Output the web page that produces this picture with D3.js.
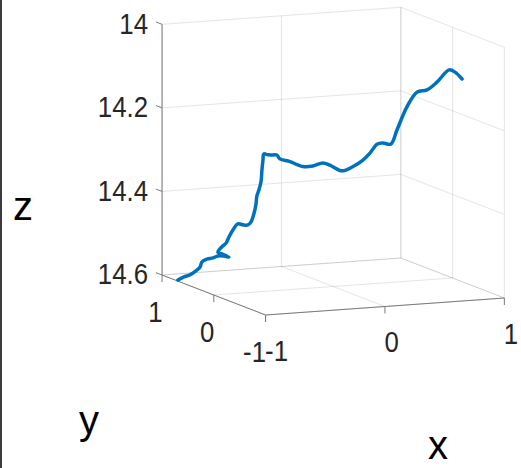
<!DOCTYPE html>
<html>
<head>
<meta charset="utf-8">
<script src="https://cdn.jsdelivr.net/npm/d3@7"></script>
<style>
  html, body { margin: 0; padding: 0; background: #fff; overflow: hidden; }
  svg { display: block; font-family: "Liberation Sans", Arial, Helvetica, sans-serif; }
</style>
</head>
<body>
<svg id="chart" width="521" height="468"></svg>
<script>
// curve data (x, y, z)
const xVals = [-0.980, -0.940, -0.901, -0.861, -0.834, -0.821, -0.788, -0.748, -0.715, -0.675,
  -0.642, -0.689, -0.715, -0.689, -0.662, -0.642, -0.616, -0.583, -0.550, -0.517,
  -0.497, -0.477, -0.464, -0.457, -0.444, -0.430, -0.424, -0.417, -0.411, -0.384,
  -0.351, -0.325, -0.305, -0.238, -0.152, -0.086, -0.020, 0.026, 0.106, 0.179,
  0.245, 0.291, 0.338, 0.377, 0.430, 0.470, 0.536, 0.603, 0.669, 0.735,
  0.815, 0.854, 0.901];
const yVals = [0.740, 0.715, 0.691, 0.667, 0.650, 0.642, 0.622, 0.598, 0.578, 0.553,
  0.533, 0.562, 0.578, 0.562, 0.545, 0.533, 0.517, 0.497, 0.477, 0.456,
  0.444, 0.432, 0.424, 0.420, 0.412, 0.403, 0.399, 0.395, 0.392, 0.375,
  0.355, 0.339, 0.327, 0.286, 0.233, 0.193, 0.152, 0.124, 0.075, 0.030,
  -0.010, -0.038, -0.067, -0.091, -0.123, -0.148, -0.188, -0.229, -0.269, -0.310,
  -0.359, -0.383, -0.411];
const zVals = [14.600, 14.592, 14.587, 14.577, 14.568, 14.555, 14.548, 14.545, 14.540, 14.540,
  14.542, 14.535, 14.531, 14.518, 14.509, 14.494, 14.477, 14.462, 14.464, 14.464,
  14.457, 14.437, 14.416, 14.394, 14.380, 14.360, 14.332, 14.308, 14.293, 14.295,
  14.295, 14.295, 14.304, 14.310, 14.321, 14.319, 14.311, 14.316, 14.329, 14.318,
  14.302, 14.285, 14.263, 14.260, 14.262, 14.228, 14.172, 14.136, 14.130, 14.111,
  14.081, 14.086, 14.102];

const xTicks = [-1, 0, 1];
const yTicks = [-1, 0, 1];
const zTicks = [14, 14.2, 14.4, 14.6];

const svg = d3.select('#chart');

// data -> box coords (u, v in [-1,1], w in [0,1]; z axis reversed)
const xScale = d3.scaleLinear().domain([-1, 1]).range([-1, 1]);
const yScale = d3.scaleLinear().domain([-1, 1]).range([-1, 1]);
const zScale = d3.scaleLinear().domain([14.6, 14]).range([0, 1]);

// orthographic view, fitted to the picture
const origin = [333.2, 286.5];
const ex = [119.4, -8.5], ey = [-51.75, -20], ez = [0, -250.7];
const proj = (u, v, w) => [origin[0] + u * ex[0] + v * ey[0] + w * ez[0],
                           origin[1] + u * ex[1] + v * ey[1] + w * ez[1]];
const P = (x, y, z) => proj(xScale(x), yScale(y), zScale(z));

const [x0, x1] = xScale.domain();
const [y0, y1] = yScale.domain();
const zBot = 14.6, zTop = 14;

// figure border on the left
svg.append('rect').attr('x', 0).attr('y', 0).attr('width', 2).attr('height', 468).attr('fill', '#3c3c3c');

// grid lines on back walls and floor
const grid = [];
xTicks.forEach(x => grid.push([P(x, y1, zBot), P(x, y1, zTop)]));
zTicks.forEach(z => grid.push([P(x0, y1, z), P(x1, y1, z)]));
yTicks.forEach(y => grid.push([P(x1, y, zBot), P(x1, y, zTop)]));
zTicks.forEach(z => grid.push([P(x1, y0, z), P(x1, y1, z)]));
xTicks.forEach(x => grid.push([P(x, y0, zBot), P(x, y1, zBot)]));
yTicks.forEach(y => grid.push([P(x0, y, zBot), P(x1, y, zBot)]));

svg.append('g')
  .selectAll('line')
  .data(grid)
  .join('line')
  .attr('x1', d => d[0][0]).attr('y1', d => d[0][1])
  .attr('x2', d => d[1][0]).attr('y2', d => d[1][1])
  .attr('stroke', '#262626')
  .attr('stroke-opacity', 0.12)
  .attr('stroke-width', 1);

// axis lines
const axisColor = '#7a7a7a';
const axes = [
  [P(x0, y1, zBot), P(x0, y1, zTop)],
  [P(x0, y1, zBot), P(x0, y0, zBot)],
  [P(x0, y0, zBot), P(x1, y0, zBot)]
];
svg.append('g')
  .selectAll('line')
  .data(axes)
  .join('line')
  .attr('x1', d => d[0][0]).attr('y1', d => d[0][1])
  .attr('x2', d => d[1][0]).attr('y2', d => d[1][1])
  .attr('stroke', axisColor)
  .attr('stroke-width', 1);

// tick marks
const eyLen = Math.hypot(ey[0], ey[1]);
const ticks = [];
zTicks.forEach(z => {
  const p = P(x0, y1, z);
  ticks.push([p, [p[0] + ey[0] / eyLen * 6.5, p[1] + ey[1] / eyLen * 6.5]]);
});
yTicks.forEach(y => { const p = P(x0, y, zBot); ticks.push([p, [p[0], p[1] + 7]]); });
xTicks.forEach(x => { const p = P(x, y0, zBot); ticks.push([p, [p[0], p[1] + 7]]); });
svg.append('g')
  .selectAll('line')
  .data(ticks)
  .join('line')
  .attr('x1', d => d[0][0]).attr('y1', d => d[0][1])
  .attr('x2', d => d[1][0]).attr('y2', d => d[1][1])
  .attr('stroke', axisColor)
  .attr('stroke-width', 1);

// tick labels (narrow font look)
const labelG = svg.append('g').attr('fill', '#262626').attr('font-size', 30);
function tickLabel(px, py, txt, anchor) {
  labelG.append('text')
    .attr('transform', `translate(${px},${py}) scale(0.86,1)`)
    .attr('text-anchor', anchor)
    .text(txt);
}
zTicks.forEach(z => { const p = P(x0, y1, z); tickLabel(p[0] - 14, p[1] + 9.2, String(z), 'end'); });
yTicks.forEach(y => { const p = P(x0, y, zBot); tickLabel(p[0] + 0.5, p[1] + 46.7, String(y), 'end'); });
xTicks.forEach(x => { const p = P(x, y0, zBot); tickLabel(p[0] - 0.5, p[1] + 45.5, String(x), 'start'); });

// axis labels
const axisLabels = [
  { t: 'z', x: 23, y: 220 },
  { t: 'y', x: 89, y: 434 },
  { t: 'x', x: 438, y: 459 }
];
svg.append('g')
  .selectAll('text')
  .data(axisLabels)
  .join('text')
  .attr('x', d => d.x).attr('y', d => d.y)
  .attr('text-anchor', 'middle')
  .attr('font-size', 40)
  .attr('fill', '#000')
  .text(d => d.t);

// the 3D curve
const pts = xVals.map((x, i) => P(x, yVals[i], zVals[i]));
svg.append('path')
  .datum(pts)
  .attr('d', d3.line().curve(d3.curveCatmullRom.alpha(0.5)))
  .attr('fill', 'none')
  .attr('stroke', '#0072BD')
  .attr('stroke-width', 3.5)
  .attr('stroke-linejoin', 'round')
  .attr('stroke-linecap', 'round');
</script>
</body>
</html>
